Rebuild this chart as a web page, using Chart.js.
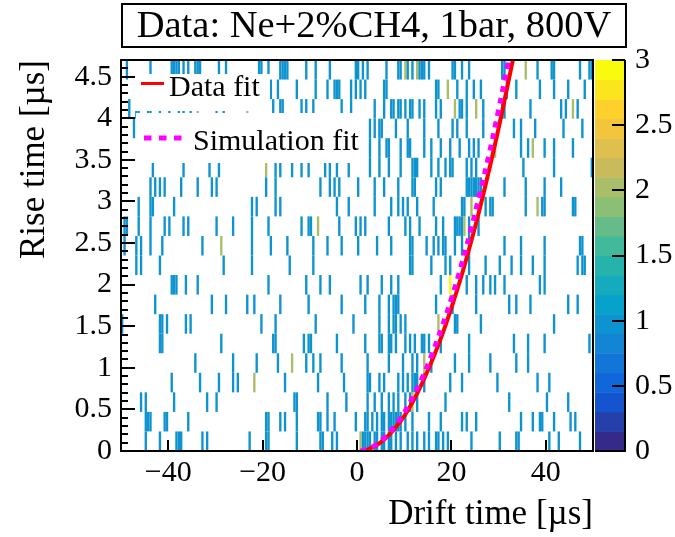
<!DOCTYPE html>
<html>
<head>
<meta charset="utf-8">
<script src="https://cdn.jsdelivr.net/npm/chart.js@4.4.1/dist/chart.umd.min.js"></script>
<style>
  html, body { margin: 0; padding: 0; background: #fff; }
</style>
</head>
<body>
<canvas id="chart" width="675" height="537"></canvas>
<script>
// binning of the histogram
const xMin = -50, xMax = 50, xBin = 0.5
const yMax = 4.7, yBin = 0.235
const zMax = 3, nLevels = 20

const xTicks = [-40, -20, 0, 20, 40]
const yTicks = [0, 0.5, 1, 1.5, 2, 2.5, 3, 3.5, 4, 4.5]
const zTicks = [0, 0.5, 1, 1.5, 2, 2.5, 3]

// drift time [us] of each entry, one list per rise time bin (lowest bin first)
const hitsByRow = [
  [-44.75, -41.75, -38.25, -37.75, -37.25, -32.75, -31.75, -22.75, -19.25, -18.75, -12.75, -7.75, -7.25, -5.25, -4.25, 0.75, 0.75, 1.25, 1.75, 2.25, 2.75, 3.75, 4.25, 5.25, 5.75, 6.75, 7.25, 8.25, 9.25, 10.75, 11.75, 12.75, 14.25, 15.25, 16.75, 17.25, 18.25, 19.25, 24.25, 30.25, 33.75, 34.25, 40.75, 42.75, 47.25],
  [-44.75, -44.25, -43.75, -40.75, -40.25, -35.75, -19.25, -18.75, -16.25, -15.25, -12.75, -8.25, -7.75, -6.25, -4.75, -0.25, 1.75, 2.25, 3.25, 4.25, 5.25, 5.75, 6.75, 7.25, 7.75, 8.25, 8.75, 9.25, 10.25, 11.75, 15.25, 17.75, 22.25, 23.25, 25.25, 34.75, 37.25, 38.75, 39.25, 41.75, 45.25, 46.25],
  [-45.75, -44.75, -38.75, -31.75, -29.75, -13.25, -12.75, -6.25, -2.25, 2.25, 3.75, 5.25, 6.75, 7.75, 8.75, 10.25, 11.25, 11.75, 11.75, 12.75, 18.75, 32.25, 40.25, 44.75],
  [-39.25, -33.25, -29.25, -26.25, -25.25, -21.75, -21.75, -15.25, -8.25, -2.75, 2.25, 2.75, 4.75, 5.75, 8.75, 9.75, 10.75, 11.75, 12.25, 12.75, 14.25, 19.75, 22.25, 29.75, 38.25, 40.75],
  [-34.25, -26.25, -21.25, -16.75, -13.75, -13.75, -10.75, -9.25, -7.75, -3.25, 2.25, 6.75, 9.75, 11.75, 12.75, 14.25, 14.25, 15.75, 20.75, 23.75, 28.25, 33.75, 36.25],
  [-41.75, -41.25, -28.75, -17.75, -17.25, -11.25, -10.25, -9.75, -4.25, 1.75, 4.75, 5.25, 6.75, 7.25, 8.25, 10.25, 11.25, 12.25, 13.75, 14.25, 15.25, 17.75, 23.75, 33.25, 36.25, 39.75, 49.25],
  [-49.75, -41.75, -41.25, -40.25, -36.25, -35.25, -20.25, -17.25, -8.75, -0.75, 4.75, 6.75, 7.75, 8.25, 9.25, 10.25, 17.25, 17.25, 20.75, 21.25, 26.25, 41.75],
  [-42.75, -30.75, -27.75, -23.25, -21.75, -16.25, -10.25, -3.25, 1.75, 4.75, 6.75, 7.75, 8.25, 8.75, 16.75, 20.25, 25.25, 32.25, 33.75, 36.75, 44.75, 46.75],
  [-39.25, -38.75, -38.25, -36.25, -33.75, -18.75, -10.75, -7.75, -5.75, 0.75, 2.25, 5.25, 7.25, 8.75, 17.75, 19.75, 19.75, 19.75, 23.25, 25.25, 26.75, 28.25, 29.25, 31.25, 38.75, 39.75],
  [-46.75, -45.75, -41.75, -28.25, -22.25, -14.25, -9.25, 11.25, 11.75, 15.75, 18.75, 19.75, 23.75, 27.25, 30.25, 32.75, 34.75, 37.25, 39.75, 46.75, 47.75, 48.25],
  [-49.25, -46.75, -45.75, -43.75, -41.25, -32.75, -28.75, -28.75, -22.25, -18.25, -14.75, -9.25, -6.25, -3.25, 0.25, 4.25, 7.25, 11.25, 11.75, 14.75, 16.25, 17.25, 18.25, 18.75, 20.75, 22.25, 23.75, 31.25, 34.75, 39.75, 47.25, 47.75],
  [-49.25, -48.75, -46.25, -43.75, -40.75, -39.75, -36.75, -35.75, -29.75, -26.25, -22.25, -18.75, -11.75, -10.25, -9.75, -8.25, -8.25, -3.75, -0.25, 0.75, 1.75, 6.75, 10.25, 11.25, 13.25, 16.75, 18.25, 20.75, 21.25, 21.75, 22.25, 22.75, 22.75, 23.75, 25.75],
  [-46.25, -43.75, -43.25, -38.75, -22.25, -21.25, -17.25, -16.25, -4.25, -1.75, 3.75, 7.25, 8.75, 9.75, 10.75, 12.75, 16.25, 22.25, 22.75, 24.25, 24.25, 27.25, 28.25, 28.75, 35.75, 38.25, 38.25, 39.25, 39.75, 45.75, 46.25],
  [-43.75, -42.75, -41.75, -40.75, -37.25, -33.75, -30.75, -29.75, -19.25, -17.25, -7.75, -5.75, -4.75, -3.75, 0.25, 3.75, 5.75, 8.75, 11.75, 12.25, 16.75, 17.75, 23.25, 23.75, 24.25, 24.75, 25.25, 25.75, 26.25, 31.25, 35.75, 39.75, 43.25],
  [-43.25, -36.75, -31.25, -29.25, -19.25, -19.25, -17.25, -16.25, -13.75, -11.75, -10.25, -6.75, -5.75, -4.25, -1.75, 2.75, 4.75, 6.75, 9.25, 11.75, 12.25, 12.75, 15.75, 17.25, 18.75, 19.75, 20.25, 23.25, 24.25, 25.25, 35.25, 41.75, 49.75],
  [2.75, 4.75, 6.25, 6.75, 9.25, 10.75, 11.25, 14.25, 15.75, 17.75, 19.75, 21.75, 23.75, 24.75, 25.75, 29.25, 29.25, 34.75, 36.25, 37.25, 37.25, 39.75, 41.75, 45.75],
  [-47.25, 2.75, 3.75, 4.75, 5.25, 8.25, 10.75, 14.25, 17.25, 20.25, 21.25, 23.25, 26.75, 33.25, 34.75, 37.75, 43.75, 47.75],
  [-48.25, -46.75, -46.25, -44.25, -43.75, -41.75, -39.75, -37.75, -36.75, -35.25, -33.75, -33.75, -29.75, -28.25, -23.25, -23.25, -17.75, -16.25, -15.75, -11.75, -10.75, -9.25, -3.25, -1.25, 3.75, 5.75, 7.25, 7.75, 8.75, 9.25, 10.25, 11.25, 11.75, 13.25, 14.25, 16.75, 17.75, 20.75, 20.75, 21.75, 22.25, 23.25, 25.25, 25.25, 26.75, 30.75, 31.25, 36.75, 43.25, 44.25, 45.75, 45.75, 46.75],
  [-18.25, -16.75, -12.75, -8.75, -6.25, -4.75, -4.25, -3.75, -1.25, -0.25, 0.75, 1.75, 5.75, 6.25, 16.75, 17.25, 19.25, 19.25, 21.25, 23.25, 24.75, 26.25, 31.75, 33.75, 38.75, 41.75, 44.75, 48.25],
  [-48.75, -43.75, -39.25, -38.75, -38.25, -37.75, -36.75, -35.75, -34.25, -33.75, -33.25, -29.25, -27.75, -20.75, -20.25, -18.75, -16.25, -15.75, -15.25, -14.75, -10.75, -8.75, -5.75, -0.25, 0.25, 1.25, 2.25, 6.25, 8.75, 9.25, 10.25, 10.25, 10.75, 11.75, 12.75, 12.75, 13.25, 13.75, 14.25, 15.25, 20.25, 20.75, 22.25, 23.75, 30.75, 31.25, 35.75, 35.75, 38.25, 41.25, 41.75, 47.25, 49.25, 49.75]
]

// fitted curves
const dataFitDrift = [0.8, 2, 4, 6, 8, 10, 12, 14, 16, 18, 20, 22, 24, 26, 28, 30, 32, 33.1]
const dataFitRise = [0, 0.013, 0.064, 0.15, 0.27, 0.42, 0.61, 0.84, 1.1, 1.39, 1.72, 2.08, 2.48, 2.91, 3.38, 3.88, 4.42, 4.72]
const simFitDrift = [0.8, 2, 4, 6, 8, 10, 12, 14, 16, 18, 20, 22, 24, 26, 28, 30, 32, 32.3]
const simFitRise = [0, 0.017, 0.075, 0.17, 0.3, 0.46, 0.67, 0.9, 1.18, 1.49, 1.83, 2.21, 2.63, 3.09, 3.57, 4.1, 4.66, 4.75]

const fontFamily = "'Liberation Serif', 'Times New Roman', serif"

// ROOT kBird palette
const birdStops = [[53, 42, 135], [15, 92, 221], [20, 129, 214], [6, 164, 202], [46, 183, 164],
  [135, 191, 119], [209, 187, 89], [254, 200, 50], [249, 251, 14]]

function birdColor(f) {
    f = Math.max(0, Math.min(1, f))
    let p = f * (birdStops.length - 1)
    let i = Math.min(birdStops.length - 2, Math.floor(p))
    let t = p - i
    let a = birdStops[i], b = birdStops[i + 1]
    let c = a.map((v, k) => Math.round(v + (b[k] - v) * t))
    return 'rgb(' + c.join(',') + ')'
}

function levelColor(v) {
    let k = Math.min(nLevels - 1, Math.floor(v / zMax * nLevels + 1e-9))
    return birdColor(k / (nLevels - 1))
}

// fill the 2D histogram cells
let cells = []
hitsByRow.forEach((row, r) => {
    let counts = new Map()
    row.forEach(x => {
        let b = Math.floor((x - xMin) / xBin)
        counts.set(b, (counts.get(b) || 0) + 1)
    })
    counts.forEach((n, b) => {
        cells.push({x: xMin + (b + 0.5) * xBin, y: [r * yBin, (r + 1) * yBin], n: n})
    })
})

const decor = {
    id: 'decor',
    beforeDraw(chart) {
        let c = chart.ctx
        c.save()
        c.fillStyle = '#fff'
        c.fillRect(0, 0, chart.width, chart.height)
        c.restore()
    },
    afterDatasetsDraw(chart) {
        let c = chart.ctx, a = chart.chartArea
        let xs = chart.scales.x, ys = chart.scales.y, zs = chart.scales.z
        c.save()

        // legend (two white boxes drawn over the histogram)
        c.fillStyle = '#fff'
        c.fillRect(135, 74, 135, 37)
        c.fillRect(136, 113, 232, 50)
        c.font = '30px ' + fontFamily
        c.fillStyle = '#000'
        c.textBaseline = 'alphabetic'
        c.fillText('Data fit', 169, 96)
        c.fillText('Simulation fit', 193, 150)
        c.strokeStyle = '#ff0000'
        c.lineWidth = 3
        c.beginPath(); c.moveTo(141, 83.5); c.lineTo(164, 83.5); c.stroke()
        c.strokeStyle = '#ff00ff'
        c.lineWidth = 5
        c.setLineDash([7.5, 7.5])
        c.beginPath(); c.moveTo(144, 138); c.lineTo(182, 138); c.stroke()
        c.setLineDash([])

        // frame and inward ticks
        c.strokeStyle = '#000'
        c.lineWidth = 2
        c.strokeRect(a.left, a.top, a.right - a.left, a.bottom - a.top)
        c.beginPath()
        for (let i = 0; i * 0.1 <= yMax; i++) {
            let py = Math.round(ys.getPixelForValue(i * 0.1))
            c.moveTo(a.left, py)
            c.lineTo(a.left + (i % 5 === 0 ? 14 : 7), py)
        }
        xTicks.forEach(v => {
            let px = Math.round(xs.getPixelForValue(v))
            c.moveTo(px, a.bottom)
            c.lineTo(px, a.bottom - 11)
        })
        c.stroke()

        // colour bar
        let x0 = a.right + 2, x1 = a.right + 32
        for (let k = 0; k < nLevels; k++) {
            let v0 = k * zMax / nLevels, v1 = (k + 1) * zMax / nLevels
            let p0 = zs.getPixelForValue(v0), p1 = zs.getPixelForValue(v1)
            c.fillStyle = levelColor(v0)
            c.fillRect(x0, p1, x1 - x0, p0 - p1 + 0.5)
        }
        c.lineWidth = 2
        c.beginPath()
        c.moveTo(x0, a.bottom); c.lineTo(x1, a.bottom); c.lineTo(x1, a.top)
        zTicks.forEach(v => {
            let py = Math.round(zs.getPixelForValue(v))
            c.moveTo(x1, py)
            c.lineTo(x1 - 13, py)
        })
        c.stroke()
        c.restore()
    },
    afterDraw(chart) {
        let c = chart.ctx
        c.save()
        c.strokeStyle = '#000'
        c.lineWidth = 2
        c.strokeRect(122, 4, 504, 43)
        c.font = '38.5px ' + fontFamily
        c.fillStyle = '#000'
        c.textAlign = 'center'
        c.textBaseline = 'alphabetic'
        c.fillText('Data: Ne+2%CH4, 1bar, 800V', 374, 37)
        c.restore()
    }
}

const tickFont = {family: fontFamily, size: 30}
const titleFont = {family: fontFamily, size: 35}

let chart = new Chart(document.querySelector('#chart'), {
    type: 'bar',
    data: {
        datasets: [{
            type: 'bar',
            data: cells,
            backgroundColor: ctx => levelColor(ctx.raw.n),
            borderWidth: 0,
            inflateAmount: 0,
            categoryPercentage: 1,
            barPercentage: 1,
            order: 3
        }, {
            type: 'line',
            label: 'Data fit',
            data: dataFitDrift.map((x, i) => ({x: x, y: dataFitRise[i]})),
            borderColor: '#ff0000',
            borderWidth: 4,
            pointRadius: 0,
            fill: false,
            tension: 0.4,
            order: 2
        }, {
            type: 'line',
            label: 'Simulation fit',
            data: simFitDrift.map((x, i) => ({x: x, y: simFitRise[i]})),
            borderColor: '#ff00ff',
            borderWidth: 5,
            borderDash: [6, 6],
            pointRadius: 0,
            fill: false,
            tension: 0.4,
            order: 1
        }]
    },
    options: {
        responsive: false,
        animation: false,
        devicePixelRatio: 1,
        layout: {padding: {top: 55, left: 0, right: 0, bottom: 0}},
        plugins: {legend: {display: false}, tooltip: {enabled: false}},
        scales: {
            x: {
                type: 'linear', min: xMin, max: xMax, offset: false,
                grid: {display: false, drawTicks: false, offset: false},
                border: {display: false},
                afterBuildTicks: s => { s.ticks = xTicks.map(v => ({value: v})) },
                afterFit: s => { s.height = 86 },
                ticks: {
                    font: tickFont, color: '#000', padding: 4, maxRotation: 0, autoSkip: false,
                    callback: v => String(v).replace('-', '\u2212')
                },
                title: {display: true, text: 'Drift time [µs]', align: 'end', color: '#000', font: titleFont, padding: {top: 0, bottom: 1}}
            },
            y: {
                type: 'linear', min: 0, max: yMax,
                grid: {display: false, drawTicks: false},
                border: {display: false},
                afterBuildTicks: s => { s.ticks = yTicks.map(v => ({value: v})) },
                afterFit: s => { s.width = 121 },
                ticks: {font: tickFont, color: '#000', padding: 9, callback: v => String(v)},
                title: {display: true, text: 'Rise time [µs]', align: 'end', color: '#000', font: titleFont, padding: {top: 14, bottom: 0}}
            },
            z: {
                type: 'linear', axis: 'y', position: 'right', min: 0, max: zMax,
                grid: {display: false, drawTicks: false},
                border: {display: false},
                afterBuildTicks: s => { s.ticks = zTicks.map(v => ({value: v})) },
                afterFit: s => { s.width = 82 },
                ticks: {font: tickFont, color: '#000', padding: 42, callback: v => String(v)}
            }
        }
    },
    plugins: [decor]
})
</script>
</body>
</html>
